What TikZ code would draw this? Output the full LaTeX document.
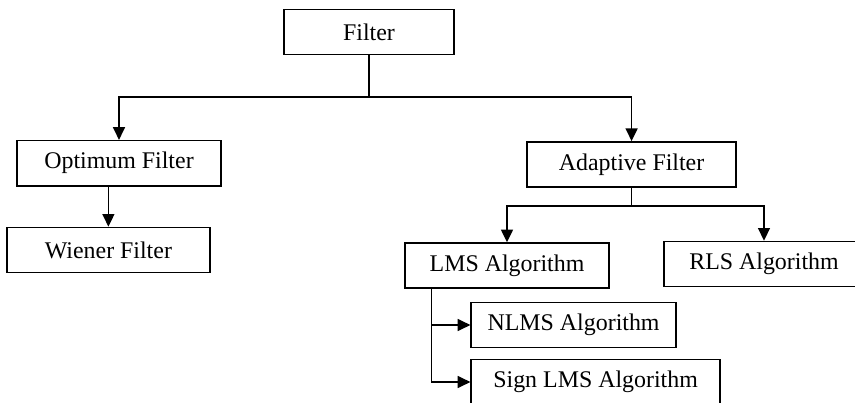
\documentclass[tikz,border=0pt]{standalone}
\usepackage{fontspec}
\setmainfont{Liberation Serif}
\usepackage{tikz}
\usetikzlibrary{positioning, arrows.meta}

\begin{document}
\begin{tikzpicture}[
        block/.style = {shape = rectangle, draw = black, line width = 1pt, minimum height = 1.13cm, inner sep = 0pt, font = \fontsize{17}{20}\selectfont},
        link/.style = {line width = 1pt, -{Triangle[length = 9pt, width = 8.5pt]}},
        wire/.style = {line width = 1pt}
    ]
                \useasboundingbox (0, 0) rectangle (21.375, -10.075);

                \node [block, minimum width = 4.25cm] (filter) at (9.225, -0.8) {Filter};
                \node [block, minimum width = 5.1cm] (optimum) at (2.975, -4.08) {Optimum Filter};
                \node [block, minimum width = 5.075cm] (wiener) at (2.71, -6.25) {Wiener Filter};
                \node [block, minimum width = 5.225cm] (adaptive) at (15.79, -4.11) {Adaptive Filter};
                \node [block, minimum width = 5.1cm] (lms) at (12.675, -6.64) {LMS Algorithm};
                \node [block, minimum width = 5.0cm] (rls) at (19.1, -6.6) {RLS Algorithm};
                \node [block, minimum width = 5.125cm] (nlms) at (14.34, -8.125) {NLMS Algorithm};
                \node [block, minimum width = 6.225cm] (sign) at (14.89, -9.55) {Sign LMS Algorithm};

                \coordinate (split) at (9.225, -2.425);
                \coordinate (splitA) at (15.79, -5.15);
                \coordinate (tap) at ([xshift = 0.675cm] lms.south west);

                \draw [wire] (filter) -- (split);
                \draw [link] (split) -| (optimum);
                \draw [link] (split) -| (adaptive);
                \draw [link] (optimum.south -| wiener.north) -- (wiener);
                \draw [wire] (adaptive) -- (splitA);
                \draw [link] (splitA) -| (lms);
                \draw [link] (splitA) -| (rls);
                \draw [link] (tap) |- (nlms);
                \draw [link] (tap) |- (sign);
            \end{tikzpicture}
\end{document}
